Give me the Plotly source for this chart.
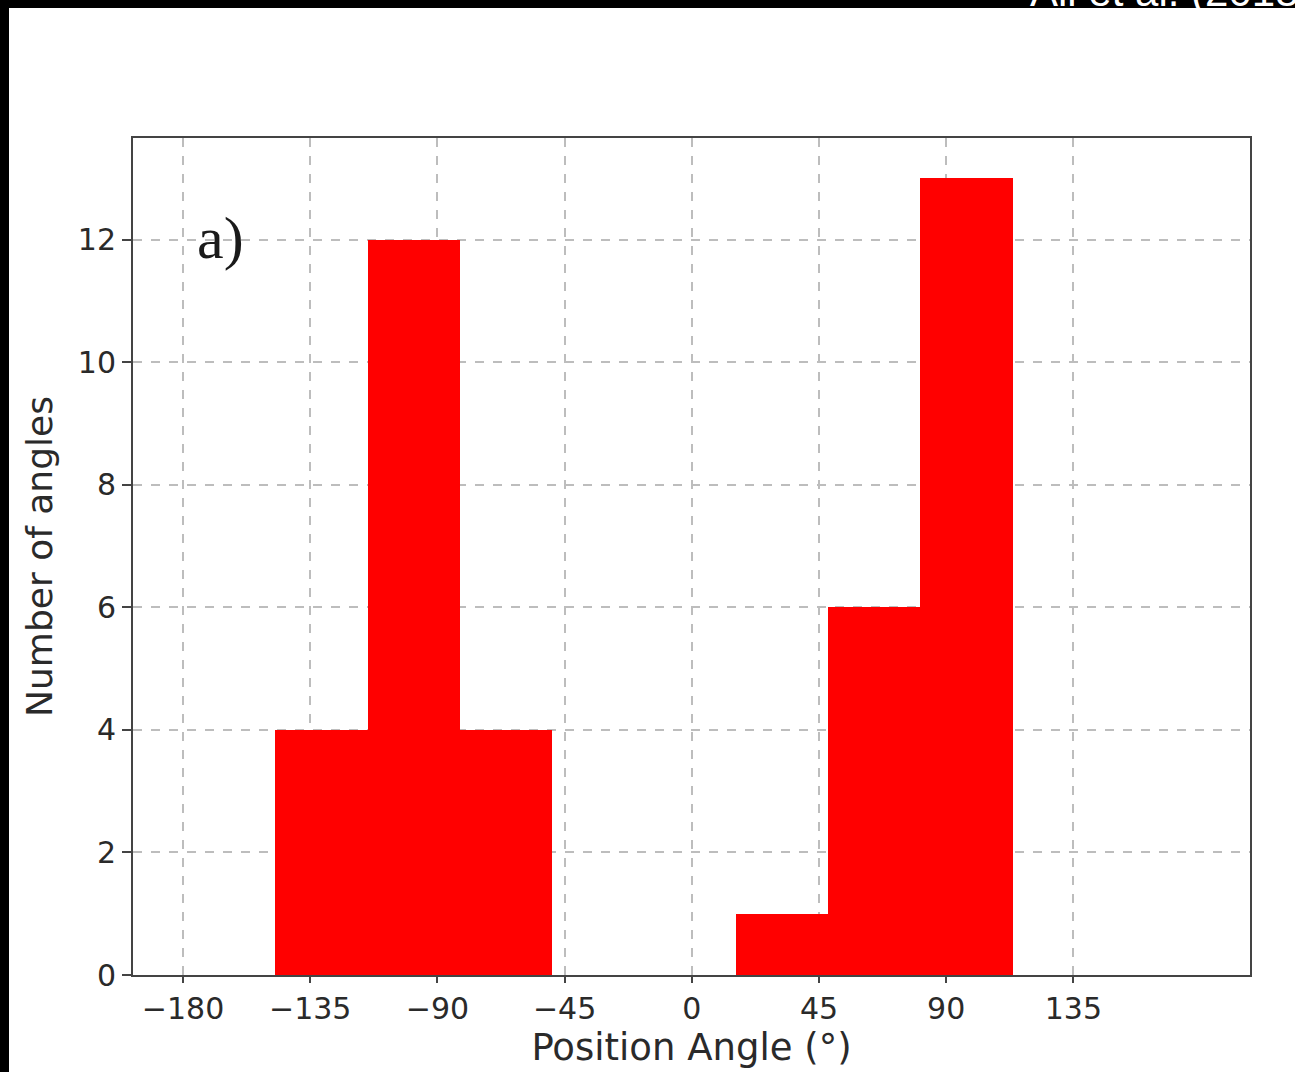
import plotly.graph_objects as go

# Histogram data
bin_edges = [-147.3, -114.7, -82.1, -49.5, -16.9, 15.7, 48.3, 80.9, 113.5]
counts = [4, 12, 4, 0, 0, 1, 6, 13]
x_ticks = [-180, -135, -90, -45, 0, 45, 90, 135]
x_tick_labels = ["\u2212180", "\u2212135", "\u221290", "\u221245", "0", "45", "90", "135"]
y_ticks = [0, 2, 4, 6, 8, 10, 12]

centers = [(bin_edges[i] + bin_edges[i + 1]) / 2 for i in range(len(counts))]
widths = [bin_edges[i + 1] - bin_edges[i] for i in range(len(counts))]

W, H = 1295, 1072
L, R, T, B = 133, 45, 138, 97
pw, ph = W - L - R, H - T - B

def px(x):
    return (x - L) / pw

def py(y):
    return (H - B - y) / ph

fig = go.Figure()
fig.add_trace(go.Bar(x=centers, y=counts, width=widths,
                     marker=dict(color="#ff0000", line=dict(width=0)),
                     showlegend=False))

axis_common = dict(
    showline=True, linecolor="#444444", linewidth=2, mirror=True,
    ticks="outside", tickwidth=1.5, tickcolor="#444444",
    showgrid=True, gridcolor="#bdbdbd", gridwidth=1.5, griddash="dash",
    zeroline=False,
    tickfont=dict(family="DejaVu Sans", size=30, color="#2a2a2a"),
)

fig.update_xaxes(range=[-197.7, 197.5], tickvals=x_ticks, ticktext=x_tick_labels, ticklen=6,
                 title=dict(text="Position Angle (\u00b0)",
                            font=dict(family="DejaVu Sans", size=37, color="#2a2a2a"),
                            standoff=5),
                 **axis_common)
fig.update_yaxes(range=[0, 13.66], tickvals=y_ticks, ticklen=9,
                 title=dict(text="Number of angles",
                            font=dict(family="DejaVu Sans", size=36, color="#2a2a2a"),
                            standoff=14),
                 **axis_common)

# black frame bands (top and left)
fig.add_shape(type="rect", xref="paper", yref="paper", x0=px(-20), x1=px(W + 20),
              y0=py(8), y1=py(-20), fillcolor="black", line=dict(width=0), layer="below")
fig.add_shape(type="rect", xref="paper", yref="paper", x0=px(-20), x1=px(9),
              y0=py(H + 20), y1=py(-20), fillcolor="black", line=dict(width=0), layer="below")

fig.add_annotation(text="a)", xref="paper", yref="paper", x=px(195), y=py(238),
                   xanchor="left", yanchor="middle", showarrow=False,
                   font=dict(family="Liberation Serif", size=60, color="#1a1a1a"))
fig.add_annotation(text="Ali et al. (2018)", xref="paper", yref="paper", x=px(1028), y=py(17),
                   xanchor="left", yanchor="bottom", showarrow=False,
                   font=dict(family="Liberation Sans", size=42, color="white"))

fig.update_layout(width=W, height=H, margin=dict(l=L, r=R, t=T, b=B),
                  paper_bgcolor="white", plot_bgcolor="white", bargap=0)

fig.write_html("out.html")
